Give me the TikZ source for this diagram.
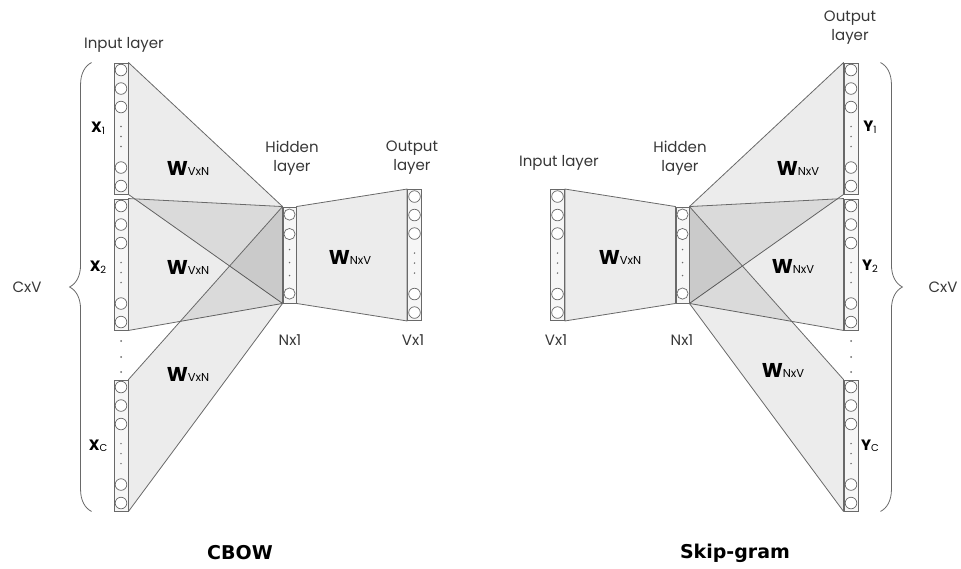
\documentclass[tikz,border=0pt]{standalone}
\usepackage{fontspec}
\setmainfont{Poppins}
\newfontfamily\titlefont{DejaVu Sans}
\usetikzlibrary{positioning,calc,decorations.pathreplacing}
\pgfdeclarelayer{background}
\pgfsetlayers{background,main}

\definecolor{linegray}{RGB}{105,105,105}
\definecolor{txtgray}{RGB}{55,55,55}

\newcommand{\wmat}[1]{{\fontsize{20}{21}\selectfont\bfseries W}{\fontsize{11.5}{12}\selectfont #1}}
\newcommand{\vecname}[2]{{\bfseries #1}{\fontsize{10}{11}\selectfont\raisebox{-1.5pt}{#2}}}

% circles of one layer column
\newcommand{\neurons}[1]{%
  \foreach \dy in {7.5,26,44.5,105,123.5}
    \draw[neuron] ($(#1.north)+(0,\dy)$) circle (5.8pt);
  \foreach \dy in {64,74,84}
    \fill[linegray] ($(#1.north)+(0,\dy)$) circle (0.8pt);
}
\newcommand{\hidneurons}[1]{%
  \foreach \dy in {8,27.5,87}
    \draw[neuron] ($(#1.north)+(0,\dy)$) circle (5.6pt);
  \foreach \dy in {43,56,69}
    \fill[linegray] ($(#1.north)+(0,\dy)$) circle (0.8pt);
}

\begin{document}
\begin{tikzpicture}[x=1pt,y=-1pt,
    col/.style={draw=linegray,fill=gray!7,line width=0.9pt,minimum width=14pt,minimum height=131pt,inner sep=0pt},
    hidcol/.style={col,minimum width=13pt,minimum height=96pt},
    neuron/.style={draw=linegray,fill=white,line width=0.7pt},
    wshape/.style={fill=black,fill opacity=0.075,draw=linegray,line width=0.8pt,line join=round},
    lbl/.style={text=txtgray,font=\fontsize{15}{19}\selectfont,align=center,inner sep=0pt},
    vlbl/.style={text=black,font=\fontsize{15}{18}\selectfont,inner sep=0pt},
    title/.style={text=black,font=\titlefont\bfseries\fontsize{19}{23}\selectfont,inner sep=0pt},
    bracebox/.style={draw=linegray,line width=0.8pt,decoration={brace,amplitude=22pt},decorate}]
    \useasboundingbox (0,0) rectangle (961,569);

    % CBOW
    \node[col] (in1) at (121,128.5) {};
    \node[col] (in2) at (121,264.5) {};
    \node[col] (inC) at (121,445.5) {};
    \node[hidcol] (hidA) at (289.5,255) {};
    \node[col] (outA) at (414.5,255) {};

    \begin{pgfonlayer}{background}
        \foreach \c in {in1,in2,inC}
            \draw[wshape] (\c.north east) -- (hidA.north west) -- (hidA.south west) -- (\c.south east) -- cycle;
        \draw[wshape] (hidA.north east) -- (outA.north west) -- (outA.south west) -- (hidA.south east) -- cycle;
    \end{pgfonlayer}

    \neurons{in1}
    \neurons{in2}
    \neurons{inC}
    \neurons{outA}
    \hidneurons{hidA}
    \foreach \dy in {341,357,372}
        \fill[linegray] (121,\dy) circle (1pt);

    \node[lbl] (inlblA) at (124,45) {Input layer};
    \node[lbl] (hidlblA) at (292,158) {Hidden\\layer};
    \node[lbl] (outlblA) at (412,158) {Output\\layer};
    \node[lbl] (nA) at (290,340) {Nx1};
    \node[lbl] (vA) at (413,340) {Vx1};
    \node[vlbl] (x1) at (98,128) {\vecname{X}{1}};
    \node[vlbl] (x2) at (98,267) {\vecname{X}{2}};
    \node[vlbl] (xC) at (98,446) {\vecname{X}{C}};
    \node[inner sep=0pt] (w1) at (188,168) {\wmat{VxN}};
    \node[inner sep=0pt] (w2) at (188,267) {\wmat{VxN}};
    \node[inner sep=0pt] (w3) at (188,374) {\wmat{VxN}};
    \node[inner sep=0pt] (w4) at (350,257) {\wmat{NxV}};

    \coordinate (bA) at ($(inC.south west)+(-22,0)$);
    \coordinate (tA) at ($(in1.north west)+(-22,0)$);
    \draw[bracebox] (bA) -- (tA);
    \node[lbl] (cvA) at (27,287) {CxV};
    \node[title] (cbow) at (240,553) {CBOW};

    % Skip-gram
    \node[col] (inB) at (557.5,255) {};
    \node[hidcol] (hidB) at (682.5,255) {};
    \node[col] (out1) at (851,128.5) {};
    \node[col] (out2) at (851,264.5) {};
    \node[col] (outC) at (851,445.5) {};

    \begin{pgfonlayer}{background}
        \draw[wshape] (inB.north east) -- (hidB.north west) -- (hidB.south west) -- (inB.south east) -- cycle;
        \foreach \c in {out1,out2,outC}
            \draw[wshape] (hidB.north east) -- (\c.north west) -- (\c.south west) -- (hidB.south east) -- cycle;
    \end{pgfonlayer}

    \neurons{inB}
    \neurons{out1}
    \neurons{out2}
    \neurons{outC}
    \hidneurons{hidB}
    \foreach \dy in {341,357,372}
        \fill[linegray] (851,\dy) circle (1pt);

    \node[lbl] (inlblB) at (559,163) {Input layer};
    \node[lbl] (hidlblB) at (680,158) {Hidden\\layer};
    \node[lbl] (outlblB) at (850,28) {Output\\layer};
    \node[lbl] (vB) at (556,340) {Vx1};
    \node[lbl] (nB) at (682,340) {Nx1};
    \node[vlbl] (y1) at (870,127) {\vecname{Y}{1}};
    \node[vlbl] (y2) at (870,266) {\vecname{Y}{2}};
    \node[vlbl] (yC) at (870,446) {\vecname{Y}{C}};
    \node[inner sep=0pt] (w5) at (620,257) {\wmat{VxN}};
    \node[inner sep=0pt] (w6) at (798,168) {\wmat{NxV}};
    \node[inner sep=0pt] (w7) at (793,266) {\wmat{NxV}};
    \node[inner sep=0pt] (w8) at (783,370) {\wmat{NxV}};

    \coordinate (tB) at ($(out1.north east)+(22,0)$);
    \coordinate (bB) at ($(outC.south east)+(22,0)$);
    \draw[bracebox] (tB) -- (bB);
    \node[lbl] (cvB) at (943,287) {CxV};
    \node[title] (skip) at (735,553) {Skip-gram};
\end{tikzpicture}
\end{document}
